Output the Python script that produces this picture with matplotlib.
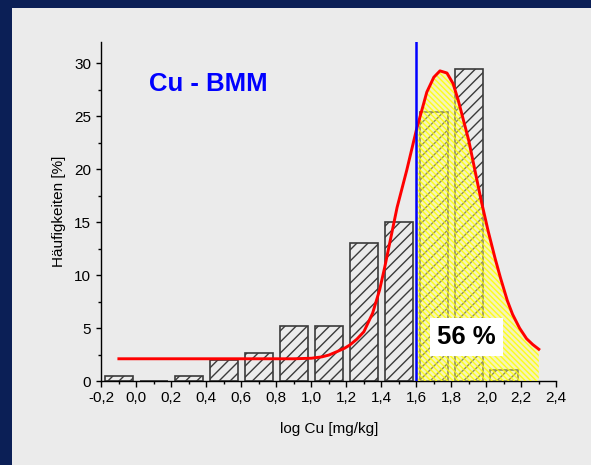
import numpy as np
import matplotlib
matplotlib.use('Agg')
import matplotlib.pyplot as plt
from matplotlib.patches import Rectangle
from matplotlib.ticker import MultipleLocator, FuncFormatter

plt.rcParams['font.family'] = ['Liberation Sans', 'DejaVu Sans']

# Histogram classes (log Cu) and frequencies in %
bin_centers = [-0.1, 0.1, 0.3, 0.5, 0.7, 0.9, 1.1, 1.3, 1.5, 1.7, 1.9, 2.1]
freq = [0.5, 0.0, 0.5, 2.0, 2.6, 5.2, 5.2, 13.0, 15.0, 25.4, 29.5, 1.05]

# Fitted curve
curve_x = [-0.1, 0.9, 1.0, 1.06, 1.1, 1.15, 1.19, 1.22, 1.26, 1.3, 1.35, 1.39,
           1.42, 1.49, 1.545, 1.6, 1.63, 1.66, 1.70, 1.735, 1.775, 1.81, 1.84,
           1.87, 1.90, 1.935, 1.97, 2.01, 2.05, 2.08, 2.12, 2.15, 2.19, 2.23,
           2.265, 2.30]
curve_y = [2.1, 2.1, 2.15, 2.28, 2.45, 2.8, 3.1, 3.4, 3.95, 4.65, 6.4, 8.6,
           10.8, 16.4, 19.9, 23.7, 25.5, 27.3, 28.7, 29.3, 29.1, 28.1, 26.5,
           24.6, 22.7, 19.9, 17.1, 14.2, 11.6, 9.8, 7.6, 6.3, 5.0, 4.0,
           3.45, 3.0]

threshold = 1.6
share_label = '56 %'
title = 'Cu - BMM'

navy = '#0b1f56'
panel = '#ebebeb'

fig = plt.figure(figsize=(5.91, 4.65), dpi=100, facecolor=panel)
# navy frame on the left and top
fig.patches.append(Rectangle((0, 0), 12 / 591, 1, transform=fig.transFigure,
                             facecolor=navy, edgecolor='none', zorder=-5))
fig.patches.append(Rectangle((0, (465 - 8) / 465), 1, 1, transform=fig.transFigure,
                             facecolor=navy, edgecolor='none', zorder=-5))

ax = fig.add_axes([101.4 / 591, 84 / 465, (556.3 - 101.4) / 591, (381 - 42.3) / 465])
ax.set_facecolor('none')

# Bars
ax.bar(bin_centers, freq, width=0.16, facecolor='none', edgecolor='#3a3a3a',
       linewidth=1.2, hatch='///', zorder=2)

# Yellow area under the curve right of the threshold
cx = np.array(curve_x)
cy = np.array(curve_y)
m = cx >= threshold
ax.fill_between(cx[m], 0, cy[m], facecolor=(1, 1, 0.5, 0.45),
                edgecolor=(1, 1, 0, 0.85), hatch='\\\\\\\\\\\\', linewidth=0, zorder=3)

# Curve and threshold line
ax.plot(cx, cy, color='#ff0000', linewidth=2.1, zorder=4)
ax.axvline(threshold, color='#0000ff', linewidth=1.8, zorder=5)

ax.text(0.071, 28.1, title, color='#0000ff', fontsize=18.5, fontweight='bold',
        ha='left', va='center', zorder=6)
ax.text(1.885, 4.18, share_label, color='black', fontsize=18.5, fontweight='bold',
        ha='center', va='center', zorder=6,
        bbox=dict(boxstyle='square,pad=0.28', facecolor='white', edgecolor='none'))

# Axes styling
ax.set_xlim(-0.2, 2.4)
ax.set_ylim(0, 32)
for s in ['top', 'right']:
    ax.spines[s].set_visible(False)
for s in ['left', 'bottom']:
    ax.spines[s].set_linewidth(1.0)

ax.xaxis.set_major_locator(MultipleLocator(0.2))
ax.xaxis.set_minor_locator(MultipleLocator(0.1))
ax.yaxis.set_major_locator(MultipleLocator(5))
ax.yaxis.set_minor_locator(MultipleLocator(2.5))
ax.xaxis.set_major_formatter(FuncFormatter(lambda v, p: ('%.1f' % v).replace('.', ',')))
ax.yaxis.set_major_formatter(FuncFormatter(lambda v, p: '%d' % v))

ax.tick_params(axis='x', which='major', length=4.5, width=1.0, labelsize=11, pad=3)
ax.tick_params(axis='x', which='minor', length=2.3, width=1.0)
ax.tick_params(axis='y', which='major', length=3.5, width=1.0, labelsize=11, pad=4)
ax.tick_params(axis='y', which='minor', length=2.0, width=1.0)

ax.set_xlabel('log Cu [mg/kg]', fontsize=11, labelpad=12)
ax.set_ylabel('Häufigkeiten [%]', fontsize=11, labelpad=6)

fig.savefig('out.png', dpi=100, facecolor=panel)
